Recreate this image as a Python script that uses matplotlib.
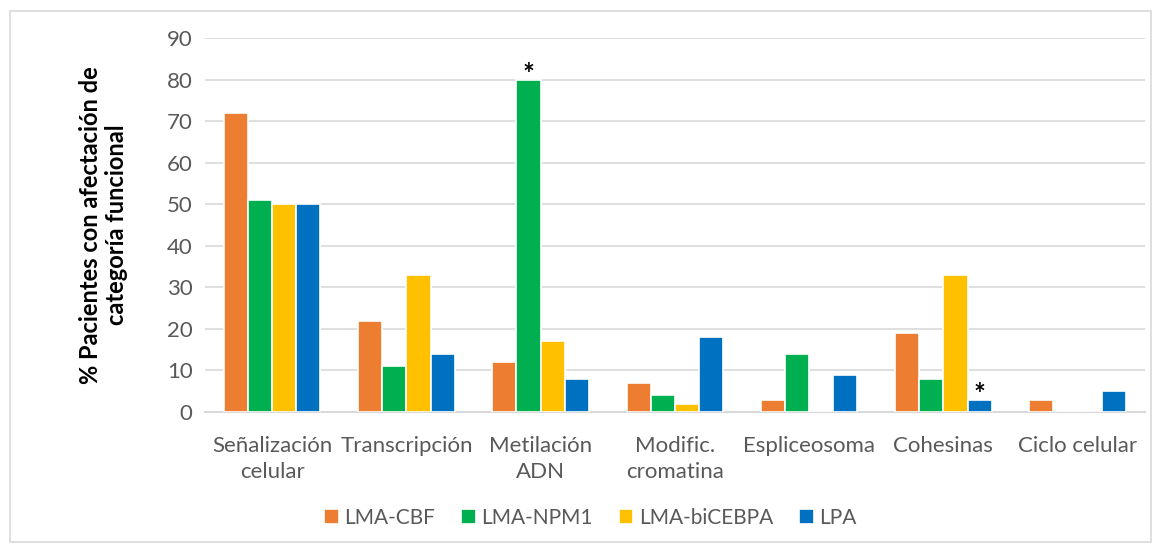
import numpy as np
import matplotlib
matplotlib.use('Agg')
from matplotlib import pyplot as plt

categories = ['Señalización\ncelular', 'Transcripción', 'Metilación\nADN',
              'Modific.\ncromatina', 'Espliceosoma', 'Cohesinas', 'Ciclo celular']
series_names = ['LMA-CBF', 'LMA-NPM1', 'LMA-biCEBPA', 'LPA']
lma_cbf = [72, 22, 12, 7, 3, 19, 3]
lma_npm1 = [51, 11, 80, 4, 14, 8, 0]
lma_bicebpa = [50, 33, 17, 2, 0, 33, 0]
lpa = [50, 14, 8, 18, 9, 3, 5]
colors = ['#ED7D31', '#00B050', '#FFC000', '#0070C0']
# (category index, series index) of the significant differences
significant = [(2, 1), (5, 3)]

plt.rcParams['font.family'] = ['Lato', 'DejaVu Sans']

fig = plt.figure(figsize=(11.61, 5.44), dpi=100)
ax = fig.add_axes([0.1766, 0.2426, 0.8094, 0.6874])

x = np.arange(len(categories))
width = 0.18
all_series = [lma_cbf, lma_npm1, lma_bicebpa, lpa]
for i, (vals, name, col) in enumerate(zip(all_series, series_names, colors)):
    offs = (i - 1.5) * width
    ax.bar(x + offs, vals, width, color=col, label=name,
           edgecolor='white', linewidth=1.2, zorder=3)

for ci, si in significant:
    val = all_series[si][ci]
    ax.text(ci + (si - 1.5) * width, val + 1.0, '*', ha='center', va='center',
            fontsize=20, fontweight='bold', color='black', zorder=4)

ax.set_xlim(-0.5, len(categories) - 0.5)
ax.set_ylim(0, 90)
ax.set_yticks(np.arange(0, 91, 10))
ax.yaxis.grid(True, color='#d9d9d9', linewidth=1.2, zorder=0)
ax.set_axisbelow(True)
for side in ['top', 'right', 'left']:
    ax.spines[side].set_visible(False)
ax.spines['bottom'].set_color('#d9d9d9')
ax.spines['bottom'].set_linewidth(1.5)
ax.tick_params(axis='both', length=0, labelsize=16, colors='#595959')
ax.tick_params(axis='x', pad=17)
ax.tick_params(axis='y', pad=9)
ax.set_xticks(x)
ax.set_xticklabels(categories, linespacing=1.4)

ax.set_ylabel('% Pacientes con afectación de\ncategoría funcional', fontsize=17,
              fontweight='bold', color='black', labelpad=28, linespacing=1.15)

ax.legend(loc='center', bbox_to_anchor=(0.41, -0.283), ncol=4, frameon=False,
          fontsize=15, labelcolor='#595959', handlelength=0.7, handleheight=0.7,
          handletextpad=0.26, columnspacing=1.25)

# light frame around the whole chart
fig.patches.append(plt.Rectangle((0.009, 0.004), 0.982, 0.976, transform=fig.transFigure,
                                 fill=False, edgecolor='#d9d9d9', linewidth=1.2))

fig.savefig('out.png', dpi=100, facecolor='white')
